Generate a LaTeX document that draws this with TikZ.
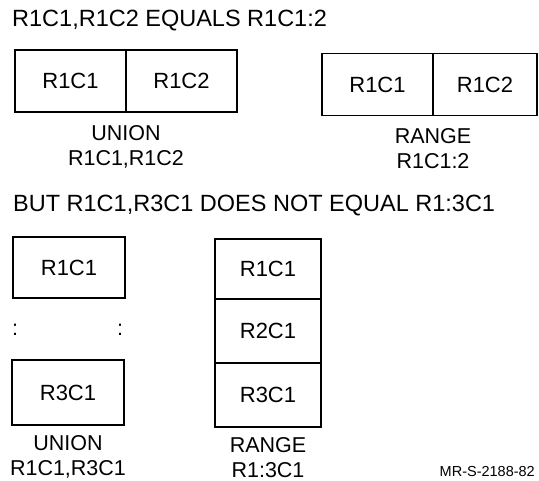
\documentclass[tikz,border=0pt]{standalone}
\usepackage{fontspec}
\setmainfont{Liberation Sans}
\usetikzlibrary{positioning}

\begin{document}
\begin{tikzpicture}[x=1pt, y=-1pt]
    % Define styles
    \tikzstyle{cell}=[rectangle, draw=black, line width=1.9pt, outer sep=0pt, inner sep=0pt, minimum width=111pt, minimum height=62pt, font=\fontsize{22pt}{25pt}\selectfont]
    \tikzstyle{caption}=[align=center, inner sep=0pt, font=\fontsize{21.5pt}{25pt}\selectfont]
    \tikzstyle{heading}=[anchor=base west, inner sep=0pt, font=\fontsize{23.5pt}{26pt}\selectfont]

    \useasboundingbox (0,0) rectangle (539,481);

    % Top part
    \node[heading] at (12,27) (title1) {R1C1,R1C2 EQUALS R1C1:2};

    \node[cell] at (70.5,81) (ua) {R1C1};
    \node[cell, right=0pt of ua] (ub) {R1C2};
    \node[caption, below=13pt of ua.south east] (ucap) {UNION\\R1C1,R1C2};

    \node[cell] at (377.5,84.5) (ra) {R1C1};
    \node[cell, right=0pt of ra, minimum width=104pt] (rb) {R1C2};
    \node[caption, below=12.5pt of ra.south east] (rcap) {RANGE\\R1C1:2};

    % Bottom part
    \node[heading] at (13,212) (title2) {BUT R1C1,R3C1 DOES NOT EQUAL R1:3C1};

    \node[cell, minimum width=112pt, minimum height=61pt] at (69,267.5) (uc) {R1C1};
    \node[font=\fontsize{21.5pt}{25pt}\selectfont] at (15,330) (dotsl) {:};
    \node[font=\fontsize{21.5pt}{25pt}\selectfont] at (120,330) (dotsr) {:};
    \node[cell, minimum width=112pt, minimum height=65pt] at (68,392.5) (ud) {R3C1};
    \node[caption, below=10pt of ud] (udcap) {UNION\\R1C1,R3C1};

    \node[cell, minimum width=106pt, minimum height=60pt] at (268,269) (rc) {R1C1};
    \node[cell, minimum width=106pt, minimum height=64pt, below=0pt of rc] (rd) {R2C1};
    \node[cell, minimum width=106pt, minimum height=64pt, below=0pt of rd] (re) {R3C1};
    \node[caption, below=10pt of re] (recap) {RANGE\\R1:3C1};

    % Figure number
    \node[anchor=base east, inner sep=0pt, font=\fontsize{14.5pt}{16pt}\selectfont] at (535,477) (fignum) {MR-S-2188-82};
\end{tikzpicture}
\end{document}
